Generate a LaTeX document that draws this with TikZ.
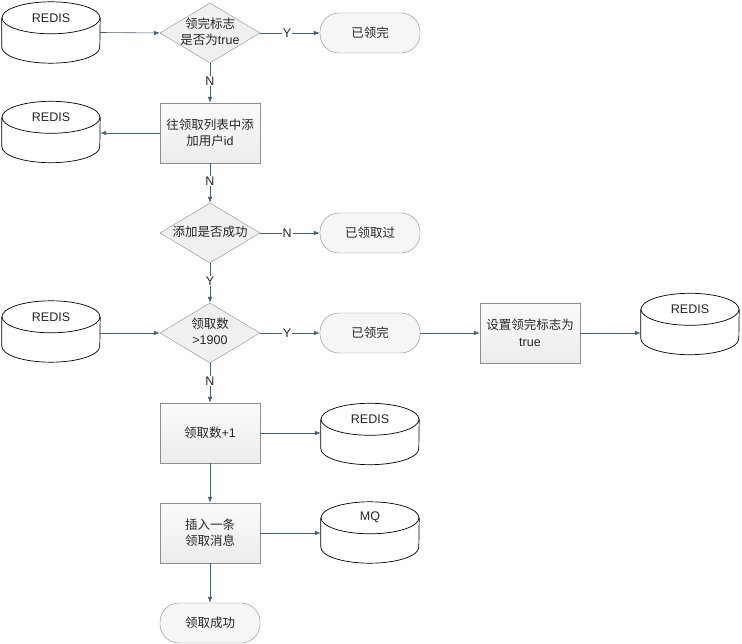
\documentclass[tikz,border=0pt]{standalone}
\usepackage{fontspec}
\setmainfont{Liberation Sans}
\newfontfamily\zh{Noto Sans CJK SC}
\usepackage{tikz}
\usetikzlibrary{shapes.geometric,arrows.meta}
\tikzset{>={Latex[length=6pt,width=4.5pt]}}
\definecolor{flowline}{HTML}{44617B}
\definecolor{boxline}{HTML}{8E8E8E}
\tikzset{
  base/.style={font=\fontsize{12.5}{16.5}\selectfont, text=black!85, align=center},
  decision/.style={base, diamond, draw=boxline, fill=gray!12, aspect=1.667,
    minimum width=100pt, minimum height=60pt, inner sep=0pt},
  process/.style={base, rectangle, draw=boxline, top color=gray!3, bottom color=gray!15,
    minimum width=100pt, minimum height=60pt, inner sep=2pt},
  terminal/.style={base, rectangle, rounded corners=19pt, draw=boxline, fill=gray!7,
    minimum width=100pt, minimum height=40pt, inner sep=2pt},
  dbbox/.style={minimum width=98pt, minimum height=61pt, inner sep=0pt},
  dbline/.style={draw=black, line width=0.7pt},
  dbtext/.style={base, inner sep=1pt},
  flow/.style={->, draw=flowline, line width=0.6pt},
  yn/.style={base, fill=white, inner sep=1pt, pos=0.45}
}
\newcommand{\dtext}[1]{\makebox[0pt]{\begin{tabular}{@{}c@{}}#1\end{tabular}}}
\newcommand{\dbdraw}[2]{%
  \draw[dbline] ([yshift=-16pt]#1.north west) -- ([yshift=16pt]#1.south west)
    arc[start angle=180, end angle=360, x radius=49pt, y radius=16pt]
    -- ([yshift=-16pt]#1.north east);
  \draw[dbline] ([yshift=-16pt]#1.north) ellipse [x radius=49pt, y radius=16pt];
  \node[dbtext] (#1-label) at ([yshift=-16pt]#1.north) {#2};
}
\begin{document}
\begin{tikzpicture}[x=1pt, y=-1pt]
\useasboundingbox[fill=white] (0,0) rectangle (742,644);

\node[dbbox] (redisA) at (51,32.5) {};
\node[dbbox] (redisB) at (51,132) {};
\node[dbbox] (redisC) at (51,331.5) {};
\node[dbbox] (redisD) at (690,324) {};
\node[dbbox] (redisE) at (370,434) {};
\node[dbbox] (mq) at (370,532.5) {};
\dbdraw{redisA}{REDIS}
\dbdraw{redisB}{REDIS}
\dbdraw{redisC}{REDIS}
\dbdraw{redisD}{REDIS}
\dbdraw{redisE}{REDIS}
\dbdraw{mq}{MQ}

\node[decision] (isdone) at (210,33) {\dtext{{\zh 领完标志}\\{\zh 是否为}true}};
\node[terminal] (doneA) at (370,33) {\zh 已领完};
\node[process] (addlist) at (210,133) {{\zh 往领取列表中添}\\{\zh 加用户}id};
\node[decision] (addok) at (210,233) {\dtext{\zh 添加是否成功}};
\node[terminal] (already) at (370,233) {\zh 已领取过};
\node[decision] (count) at (210,333) {\dtext{{\zh 领取数}\\>1900}};
\node[terminal] (doneB) at (370,333) {\zh 已领完};
\node[process] (setflag) at (530,333) {{\zh 设置领完标志为}\\true};
\node[process] (incr) at (210,433) {{\zh 领取数}+1};
\node[process] (insert) at (210,533) {{\zh 插入一条}\\{\zh 领取消息}};
\node[terminal] (success) at (210,623) {\zh 领取成功};

\draw[flow] (redisA.east) -- (isdone.west);
\draw[flow] (isdone.east) -- node[yn]{Y} (doneA.west);
\draw[flow] (isdone.south) -- node[yn]{N} (addlist.north);
\draw[flow] (addlist.west) -- (addlist.west -| redisB.east);
\draw[flow] (addlist.south) -- node[yn]{N} (addok.north);
\draw[flow] (addok.east) -- node[yn]{N} (already.west);
\draw[flow] (addok.south) -- node[yn]{Y} (count.north);
\draw[flow] (redisC.east |- count.west) -- (count.west);
\draw[flow] (count.east) -- node[yn]{Y} (doneB.west);
\draw[flow] (doneB.east) -- (setflag.west);
\draw[flow] (setflag.east) -- (setflag.east -| redisD.west);
\draw[flow] (count.south) -- node[yn]{N} (incr.north);
\draw[flow] (incr.east) -- (incr.east -| redisE.west);
\draw[flow] (incr.south) -- (insert.north);
\draw[flow] (insert.east) -- (insert.east -| mq.west);
\draw[flow] (insert.south) -- (success.north);
\end{tikzpicture}
\end{document}
